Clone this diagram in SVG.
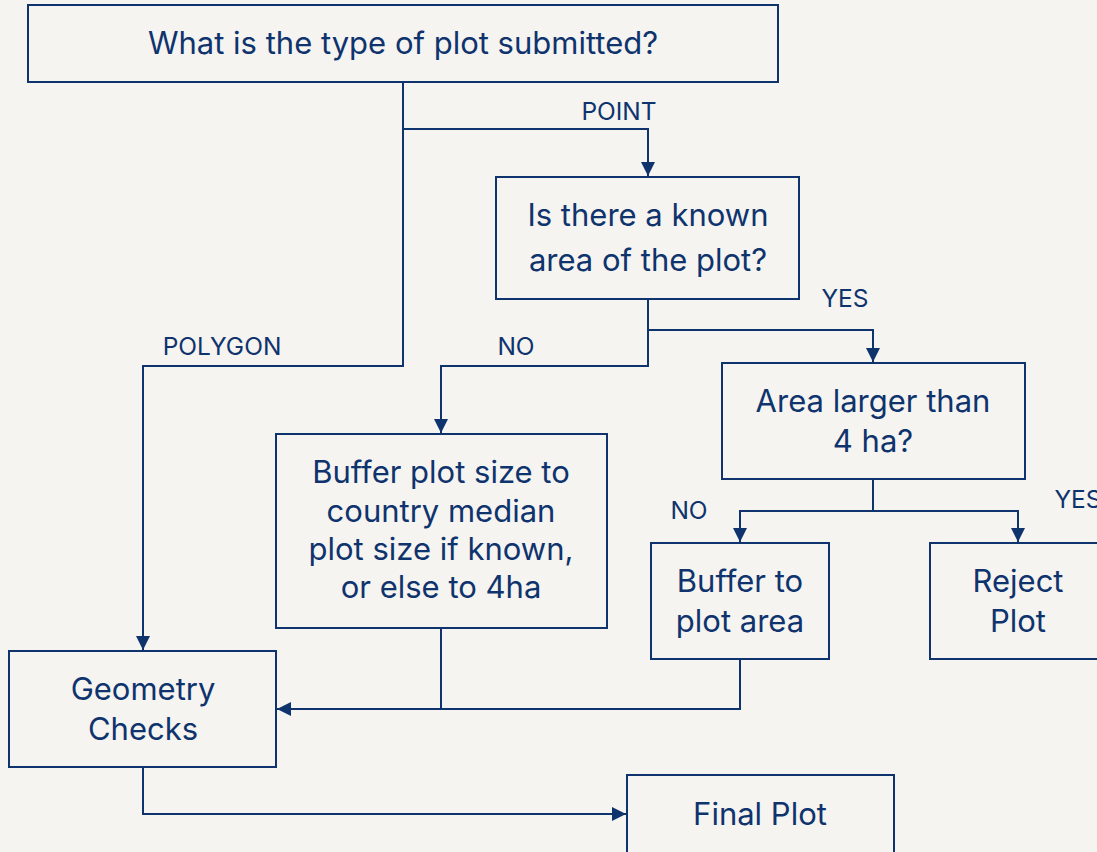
<svg xmlns="http://www.w3.org/2000/svg" width="1097" height="852" viewBox="0 0 1097 852">
  <style>
    .box { fill: #f5f4f1; stroke: #0f336d; stroke-width: 2; }
    .txt { font-family: Inter, "Noto Sans", "Liberation Sans", sans-serif; font-size: 31px; fill: #0f336d; text-anchor: middle; }
    .lbl { font-family: Inter, "Noto Sans", "Liberation Sans", sans-serif; font-size: 24.5px; fill: #0f336d; text-anchor: middle; }
    .wire { fill: none; stroke: #0f336d; stroke-width: 2; }
  </style>
  <defs>
    <marker id="arrow" viewBox="0 0 10 10" refX="10" refY="5" markerWidth="14" markerHeight="14" markerUnits="userSpaceOnUse" orient="auto">
      <path d="M0,0 L10,5 L0,10 Z" fill="#0f336d"/>
    </marker>
  </defs>
  <rect width="1097" height="852" fill="#f5f4f1"/>

  <g id="connectors">
    <path class="wire" d="M403,82 V129 H648 V176" marker-end="url(#arrow)"/>
    <path class="wire" d="M403,129 V366 H143 V650" marker-end="url(#arrow)"/>
    <path class="wire" d="M648,299 V330 H873 V362" marker-end="url(#arrow)"/>
    <path class="wire" d="M648,330 V366 H441 V433" marker-end="url(#arrow)"/>
    <path class="wire" d="M873,479 V511 H740 V542" marker-end="url(#arrow)"/>
    <path class="wire" d="M873,511 H1018 V542" marker-end="url(#arrow)"/>
    <path class="wire" d="M441,628 V709 H277" marker-end="url(#arrow)"/>
    <path class="wire" d="M740,659 V709 H441"/>
    <path class="wire" d="M143,767 V814 H626" marker-end="url(#arrow)"/>
    <text class="lbl" x="619" y="120">POINT</text>
    <text class="lbl" x="222" y="355">POLYGON</text>
    <text class="lbl" x="845" y="307">YES</text>
    <text class="lbl" x="516" y="355">NO</text>
    <text class="lbl" x="689" y="519">NO</text>
    <text class="lbl" x="1078" y="508">YES</text>
  </g>

  <g id="plot-type">
    <rect class="box" x="28" y="5" width="750" height="77"/>
    <text class="txt" x="403" y="54">What is the type of plot submitted?</text>
  </g>

  <g id="known-area">
    <rect class="box" x="496" y="177" width="303" height="122"/>
    <text class="txt" x="648" y="226">Is there a known</text>
    <text class="txt" x="648" y="271">area of the plot?</text>
  </g>

  <g id="area-check">
    <rect class="box" x="722" y="363" width="303" height="116"/>
    <text class="txt" x="873" y="412">Area larger than</text>
    <text class="txt" x="873" y="452">4 ha?</text>
  </g>

  <g id="buffer-median">
    <rect class="box" x="276" y="434" width="331" height="194"/>
    <text class="txt" x="441" y="483">Buffer plot size to</text>
    <text class="txt" x="441" y="522">country median</text>
    <text class="txt" x="441" y="560">plot size if known,</text>
    <text class="txt" x="441" y="598">or else to 4ha</text>
  </g>

  <g id="buffer-area">
    <rect class="box" x="651" y="543" width="178" height="116"/>
    <text class="txt" x="740" y="592">Buffer to</text>
    <text class="txt" x="740" y="632">plot area</text>
  </g>

  <g id="reject">
    <rect class="box" x="930" y="543" width="180" height="116"/>
    <text class="txt" x="1018" y="592">Reject</text>
    <text class="txt" x="1018" y="632">Plot</text>
  </g>

  <g id="geometry-checks">
    <rect class="box" x="9" y="651" width="267" height="116"/>
    <text class="txt" x="143" y="700">Geometry</text>
    <text class="txt" x="143" y="740">Checks</text>
  </g>

  <g id="final-plot">
    <rect class="box" x="627" y="775" width="267" height="90"/>
    <text class="txt" x="760" y="825">Final Plot</text>
  </g>
</svg>
